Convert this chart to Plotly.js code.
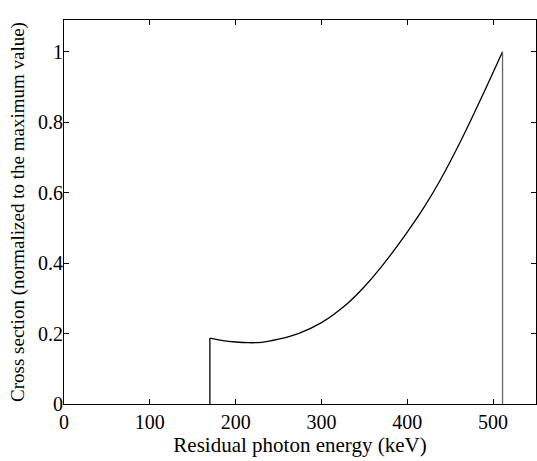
<!DOCTYPE html>
<html>
<head>
<meta charset="utf-8">
<script src="https://cdn.plot.ly/plotly-3.0.1.min.js"></script>
<style>html,body{margin:0;padding:0;background:#fff;}#chart{width:537px;height:461px;}</style>
</head>
<body>
<div id="chart"></div>
<script>
// Residual photon energy (keV)
const energy = [170, 185, 200, 215, 230, 250, 273, 300, 331, 350, 370, 400, 420, 439, 462, 485, 511];
// Cross section normalized to maximum value
const crossSection = [0.187, 0.180, 0.176, 0.174, 0.175, 0.184, 0.200, 0.231, 0.287, 0.333, 0.390, 0.488, 0.560, 0.638, 0.745, 0.862, 1.0];
// Edges of the distribution (vertical lines)
const lowEdgeX = [170, 170];
const lowEdgeY = [0, 0.187];
const highEdgeX = [511, 511];
const highEdgeY = [0, 1.0];
const xTicks = [0, 100, 200, 300, 400, 500];
const yTicks = [0, 0.2, 0.4, 0.6, 0.8, 1];

const fam = 'Liberation Serif, Times New Roman, serif';
const tickFont = {family: fam, size: 20, color: '#000'};
const xTitleFont = {family: fam, size: 21, color: '#000'};
const yTitleFont = {family: fam, size: 19, color: '#000'};

const traces = [
  {x: energy, y: crossSection, mode: 'lines', line: {color: '#000', width: 1.3, shape: 'spline', smoothing: 1}, hoverinfo: 'none'},
  {x: lowEdgeX, y: lowEdgeY, mode: 'lines', line: {color: '#000', width: 1.3}, hoverinfo: 'none'},
  {x: highEdgeX, y: highEdgeY, mode: 'lines', line: {color: '#666', width: 1.3}, hoverinfo: 'none'}
];

const layout = {
  width: 537, height: 461,
  margin: {l: 64, r: 1, t: 20, b: 57},
  showlegend: false,
  paper_bgcolor: '#fff', plot_bgcolor: '#fff',
  font: tickFont,
  xaxis: {
    range: [0, 550], tickvals: xTicks, ticks: 'inside', ticklen: 5, tickcolor: '#000',
    showline: true, linecolor: '#000', linewidth: 1, mirror: 'ticks', showgrid: false, zeroline: false,
    tickfont: tickFont,
    title: {text: 'Residual photon energy (keV)', font: xTitleFont, standoff: 4}
  },
  yaxis: {
    range: [0, 1.09], tickvals: yTicks, ticks: 'inside', ticklen: 5, tickcolor: '#000',
    showline: true, linecolor: '#000', linewidth: 1, mirror: 'ticks', showgrid: false, zeroline: false,
    tickfont: tickFont, ticklabelstandoff: -4,
    title: {text: 'Cross section (normalized to the maximum value)', font: yTitleFont, standoff: 8}
  }
};

Plotly.newPlot('chart', traces, layout, {staticPlot: true, displayModeBar: false});
</script>
</body>
</html>
